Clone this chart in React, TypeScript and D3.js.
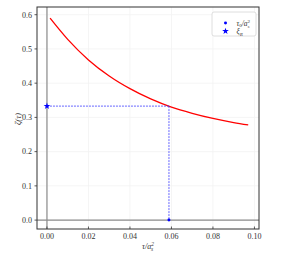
import { useEffect, useRef } from "react";
import * as d3 from "d3";

// curve
const tauValues = [0.0015, 0.01, 0.02, 0.03, 0.04, 0.05, 0.06, 0.07, 0.08, 0.09, 0.097];
const zetaValues = [0.59, 0.528, 0.468, 0.421, 0.384, 0.354, 0.33, 0.312, 0.297, 0.285, 0.278];

const xTicks = [0, 0.02, 0.04, 0.06, 0.08, 0.1];
const yTicks = [0, 0.1, 0.2, 0.3, 0.4, 0.5, 0.6];

const tau0 = 0.0588;
const xiR = 0.333;

const width = 297;
const height = 259;
const font = "'Liberation Serif', 'DejaVu Serif', serif";

const App = () => {
    const ref = useRef<SVGSVGElement>(null);

    useEffect(() => {
        const svg = d3.select(ref.current);
        svg.selectAll("*").remove();

        const x = d3.scaleLinear().domain([-0.0048, 0.1022]).range([37, 259]);
        const y = d3.scaleLinear().domain([-0.026, 0.6225]).range([229, 7]);
        const [x0, x1] = x.range();
        const [y0, y1] = y.range();

        // faint grid
        const grid = svg.append("g").attr("stroke", "#f2f2f2").attr("stroke-width", 0.8);
        xTicks.forEach((t) => {
            grid.append("line").attr("x1", x(t)).attr("x2", x(t)).attr("y1", y0).attr("y2", y1);
        });
        yTicks.forEach((t) => {
            grid.append("line").attr("x1", x0).attr("x2", x1).attr("y1", y(t)).attr("y2", y(t));
        });

        // zero lines
        svg.append("line")
            .attr("x1", x0).attr("x2", x1).attr("y1", y(0)).attr("y2", y(0))
            .attr("stroke", "#8c8c8c").attr("stroke-width", 1.2);
        svg.append("line")
            .attr("x1", x(0)).attr("x2", x(0)).attr("y1", y0).attr("y2", y1)
            .attr("stroke", "#8c8c8c").attr("stroke-width", 1.2);

        // curve
        const pts = tauValues.map((t, i) => [t, zetaValues[i]] as [number, number]);
        const line = d3.line<[number, number]>()
            .x((d) => x(d[0]))
            .y((d) => y(d[1]))
            .curve(d3.curveMonotoneX);
        svg.append("path")
            .attr("d", line(pts))
            .attr("fill", "none")
            .attr("stroke", "#ff0000")
            .attr("stroke-width", 1.3);

        // dashed guides
        svg.append("line")
            .attr("x1", x(0)).attr("x2", x(tau0)).attr("y1", y(xiR)).attr("y2", y(xiR))
            .attr("stroke", "#3333ff").attr("stroke-opacity", 0.75)
            .attr("stroke-width", 1).attr("stroke-dasharray", "2,1");
        svg.append("line")
            .attr("x1", x(tau0)).attr("x2", x(tau0)).attr("y1", y(xiR)).attr("y2", y(0))
            .attr("stroke", "#3333ff").attr("stroke-opacity", 0.75)
            .attr("stroke-width", 1).attr("stroke-dasharray", "2,1");

        const star = d3.symbol().type(d3.symbolStar).size(14);
        const dot = d3.symbol().type(d3.symbolCircle).size(7);

        svg.append("path")
            .attr("d", star())
            .attr("transform", `translate(${x(0)},${y(xiR)})`)
            .attr("fill", "#0000ff");
        svg.append("path")
            .attr("d", dot())
            .attr("transform", `translate(${x(tau0)},${y(0)})`)
            .attr("fill", "#0000ff");

        // frame
        svg.append("rect")
            .attr("x", x0).attr("y", y1)
            .attr("width", x1 - x0).attr("height", y0 - y1)
            .attr("fill", "none").attr("stroke", "#333").attr("stroke-width", 1);

        // ticks
        const tickG = svg.append("g").attr("stroke", "#333").attr("stroke-width", 0.8);
        xTicks.forEach((t) => {
            tickG.append("line").attr("x1", x(t)).attr("x2", x(t)).attr("y1", y0).attr("y2", y0 - 2.5);
        });
        yTicks.forEach((t) => {
            tickG.append("line").attr("x1", x0).attr("x2", x0 - 2.5).attr("y1", y(t)).attr("y2", y(t));
        });

        svg.append("g")
            .selectAll("text")
            .data(xTicks)
            .join("text")
            .attr("x", (d) => x(d))
            .attr("y", 238.5)
            .attr("text-anchor", "middle")
            .attr("font-family", font)
            .attr("font-size", 8)
            .attr("fill", "#333")
            .text((d) => d3.format(".2f")(d));

        svg.append("g")
            .selectAll("text")
            .data(yTicks)
            .join("text")
            .attr("x", 32)
            .attr("y", (d) => y(d) + 2.8)
            .attr("text-anchor", "end")
            .attr("font-family", font)
            .attr("font-size", 8)
            .attr("fill", "#333")
            .text((d) => d3.format(".1f")(d));

        // axis labels
        const xl = svg.append("text")
            .attr("x", 148).attr("y", 249)
            .attr("text-anchor", "middle")
            .attr("font-family", font).attr("font-size", 8).attr("font-style", "italic")
            .attr("fill", "#333");
        xl.append("tspan").text("τ/a");
        xl.append("tspan").attr("font-size", 5.5).attr("dy", -3.5).text("2");
        xl.append("tspan").attr("font-size", 5.5).attr("dx", -2.8).attr("dy", 5.5).text("s");

        svg.append("text")
            .attr("transform", "translate(21,119) rotate(-90)")
            .attr("text-anchor", "middle")
            .attr("font-family", font).attr("font-size", 8.5).attr("font-style", "italic")
            .attr("fill", "#333")
            .text("ζ(τ)");

        // legend
        const lg = svg.append("g");
        lg.append("rect")
            .attr("x", 212).attr("y", 12).attr("width", 44).attr("height", 24)
            .attr("rx", 2).attr("fill", "#fff")
            .attr("stroke", "#d6d6d6").attr("stroke-width", 0.8);
        lg.append("path").attr("d", dot()).attr("transform", "translate(225.5,23)").attr("fill", "#0000ff");
        lg.append("path").attr("d", star()).attr("transform", "translate(225.5,31.2)").attr("fill", "#0000ff");

        const t1 = lg.append("text")
            .attr("x", 236.5).attr("y", 25.5)
            .attr("font-family", font).attr("font-size", 7.5).attr("font-style", "italic")
            .attr("fill", "#333");
        t1.append("tspan").text("τ");
        t1.append("tspan").attr("font-size", 5).attr("dy", 1.5).attr("font-style", "normal").text("0");
        t1.append("tspan").attr("dy", -1.5).text("/a");
        t1.append("tspan").attr("font-size", 5).attr("dy", -3).attr("font-style", "normal").text("2");
        t1.append("tspan").attr("font-size", 5).attr("dx", -2.5).attr("dy", 5).text("s");

        const t2 = lg.append("text")
            .attr("x", 236.5).attr("y", 34)
            .attr("font-family", font).attr("font-size", 7.5).attr("font-style", "italic")
            .attr("fill", "#333");
        t2.append("tspan").text("ξ");
        t2.append("tspan").attr("font-size", 5).attr("dy", 1.5).text("R");
    }, []);

    return (
        <svg
            ref={ref}
            width={width}
            height={height}
            style={{ position: "absolute", left: 0, top: 0, background: "#fff" }}
        ></svg>
    );
};

export default App;
